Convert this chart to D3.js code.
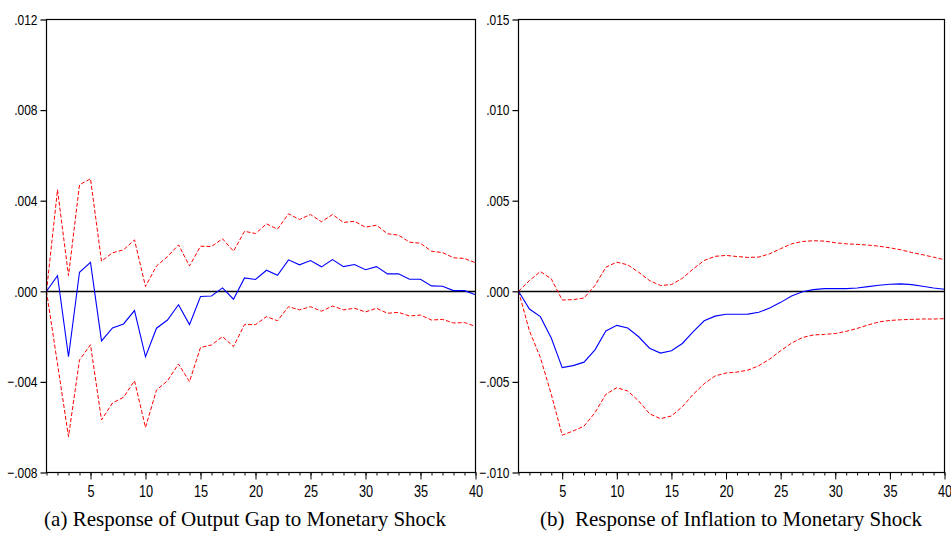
<!DOCTYPE html>
<html>
<head>
<meta charset="utf-8">
<script src="https://cdn.jsdelivr.net/npm/d3@7"></script>
<style>
  body { margin: 0; background: #fff; }
  svg { display: block; }
  .tick text { font-family: "Liberation Sans", Arial, sans-serif; fill: #000; }
  .caption { font-family: "Liberation Serif", "Times New Roman", serif; font-size: 21px; fill: #000; }
</style>
</head>
<body>
<svg id="chart"></svg>
<script>
const width = 951;
const height = 538;

// periods 1..40
const periods = d3.range(1, 41);

// (a) output gap response
const gapMid = [0, 0.00069, -0.00289, 0.00084, 0.00128, -0.00219, -0.00162, -0.00144, -0.00085, -0.00289,
  -0.00163, -0.00127, -0.00059, -0.00147, -0.00023, -0.00021, 0.00015, -0.00035, 0.00059, 0.00052,
  0.00093, 0.00071, 0.00139, 0.00117, 0.00136, 0.00108, 0.0014, 0.00109, 0.00118, 0.00095,
  0.00109, 0.00077, 0.00077, 0.00053, 0.00053, 0.00024, 0.00022, 0.00003, 0.00003, -0.00015];
const gapUpper = [0, 0.00448, 0.00069, 0.0047, 0.00497, 0.00133, 0.0017, 0.00183, 0.00227, 0.00021,
  0.00112, 0.00153, 0.00205, 0.00112, 0.00199, 0.00198, 0.00232, 0.00177, 0.00265, 0.00255,
  0.00298, 0.00274, 0.00342, 0.00317, 0.00339, 0.00307, 0.00339, 0.00304, 0.00309, 0.00283,
  0.00292, 0.00254, 0.00248, 0.00217, 0.00212, 0.00177, 0.00171, 0.00148, 0.00145, 0.00126];
const gapLower = [0, -0.00321, -0.00642, -0.00303, -0.00236, -0.00568, -0.00493, -0.00468, -0.00395, -0.00601,
  -0.00436, -0.00395, -0.00321, -0.00399, -0.00248, -0.00237, -0.002, -0.00244, -0.00147, -0.00147,
  -0.00112, -0.0013, -0.00068, -0.00082, -0.00068, -0.00088, -0.00065, -0.00082, -0.00075, -0.00091,
  -0.00075, -0.00097, -0.00093, -0.00109, -0.00105, -0.00127, -0.00124, -0.0014, -0.00138, -0.00155];

// (b) inflation response
const infMid = [0, -0.00098, -0.0014, -0.00258, -0.00421, -0.0041, -0.00391, -0.00323, -0.00219, -0.00188,
  -0.00203, -0.00251, -0.00314, -0.00341, -0.00328, -0.00288, -0.00223, -0.00163, -0.00137, -0.00127,
  -0.00127, -0.00126, -0.00116, -0.00092, -0.00061, -0.00026, -0.00002, 0.00009, 0.00015, 0.00015,
  0.00015, 0.00018, 0.00026, 0.00033, 0.00039, 0.00041, 0.00037, 0.00028, 0.00018, 0.00011];
const infUpper = [0, 0.00059, 0.00109, 0.00069, -0.00048, -0.00046, -0.00037, 0.00032, 0.00133, 0.00161,
  0.00146, 0.00105, 0.00059, 0.00032, 0.00037, 0.00072, 0.00124, 0.0017, 0.00193, 0.00198,
  0.00192, 0.00187, 0.00189, 0.00207, 0.00235, 0.00262, 0.00275, 0.00279, 0.00277, 0.00268,
  0.00262, 0.00259, 0.00255, 0.00249, 0.0024, 0.00229, 0.00214, 0.00202, 0.00188, 0.00174];
const infLower = [0, -0.00218, -0.00365, -0.00568, -0.00794, -0.00771, -0.00744, -0.0067, -0.00568, -0.00532,
  -0.0055, -0.00605, -0.00676, -0.00703, -0.00688, -0.00637, -0.00568, -0.0051, -0.00467, -0.00451,
  -0.00446, -0.00435, -0.00411, -0.00374, -0.00328, -0.00286, -0.00255, -0.00241, -0.00238, -0.00233,
  -0.00221, -0.00205, -0.00186, -0.00169, -0.00161, -0.00157, -0.00155, -0.00153, -0.00153, -0.00151];

const gapTicks = [-0.008, -0.004, 0, 0.004, 0.008, 0.012];
const infTicks = [-0.010, -0.005, 0, 0.005, 0.010, 0.015];
const xMajor = [5, 10, 15, 20, 25, 30, 35, 40];

const captions = ["(a) Response of Output Gap to Monetary Shock", "(b)\u00a0 Response of Inflation to Monetary Shock"];

const svg = d3.select("#chart").attr("width", width).attr("height", height);

// strip the leading zero like ".004", "-.004"
const fmt = (v) => d3.format(".3f")(v).replace("0.", ".");

// no narrow font installed, so squeeze the tick labels sideways
const squeeze = (sel, sx) => {
  sel.attr("transform", function () {
    const tx = +this.getAttribute("x") || 0;
    return "translate(" + tx + ",0) scale(" + sx + ",1)";
  }).attr("x", 0);
};

const panels = [
  { left: 46.5, right: 475.5, top: 19.5, bottom: 472.5, ticks: gapTicks, mid: gapMid, up: gapUpper, lo: gapLower, cx: 245, caption: captions[0] },
  { left: 518.5, right: 944.5, top: 19.5, bottom: 472.5, ticks: infTicks, mid: infMid, up: infUpper, lo: infLower, cx: 731, caption: captions[1] }
];

panels.forEach((p) => {
  const x = d3.scaleLinear().domain([1, 40]).range([p.left, p.right]);
  const y = d3.scaleLinear().domain([p.ticks[0], p.ticks[p.ticks.length - 1]]).range([p.bottom, p.top]);
  const g = svg.append("g");

  // zero line
  const y0 = Math.round(y(0)) + 0.5;
  g.append("line")
    .attr("x1", p.left).attr("x2", p.right)
    .attr("y1", y0).attr("y2", y0)
    .attr("stroke", "#000").attr("stroke-width", 1.3);

  const line = (arr) => d3.line().x((d, i) => x(periods[i])).y((d) => y(d))(arr);

  [p.up, p.lo].forEach((band) => {
    g.append("path")
      .attr("d", line(band))
      .attr("fill", "none")
      .attr("stroke", "#ff0000")
      .attr("stroke-width", 1)
      .attr("stroke-dasharray", "4,2");
  });

  g.append("path")
    .attr("d", line(p.mid))
    .attr("fill", "none")
    .attr("stroke", "#0000ff")
    .attr("stroke-width", 1.1);

  // frame
  g.append("rect")
    .attr("x", p.left).attr("y", p.top)
    .attr("width", p.right - p.left).attr("height", p.bottom - p.top)
    .attr("fill", "none").attr("stroke", "#000").attr("stroke-width", 1.2);

  // y axis
  const yAxis = d3.axisLeft(y).tickValues(p.ticks).tickSize(6).tickPadding(3).tickFormat(fmt);
  const ya = g.append("g").attr("transform", "translate(" + p.left + ",0)").call(yAxis);
  ya.select(".domain").remove();
  ya.selectAll(".tick line").attr("stroke-width", 1.2);
  ya.selectAll(".tick text").style("font-size", "15px").call(squeeze, 0.8);

  // x axis, minor ticks every period
  const xMinor = d3.axisBottom(x).tickValues(periods).tickSize(3).tickFormat("");
  const xa1 = g.append("g").attr("transform", "translate(0," + p.bottom + ")").call(xMinor);
  xa1.select(".domain").remove();

  const xAxis = d3.axisBottom(x).tickValues(xMajor).tickSize(7).tickPadding(5).tickFormat(d3.format("d"));
  const xa2 = g.append("g").attr("transform", "translate(0," + p.bottom + ")").call(xAxis);
  xa2.select(".domain").remove();
  xa2.selectAll(".tick text").style("font-size", "17px").call(squeeze, 0.75);

  // caption
  svg.append("text")
    .attr("class", "caption")
    .attr("x", p.cx)
    .attr("y", 526)
    .attr("text-anchor", "middle")
    .text(p.caption);
});
</script>
</body>
</html>
